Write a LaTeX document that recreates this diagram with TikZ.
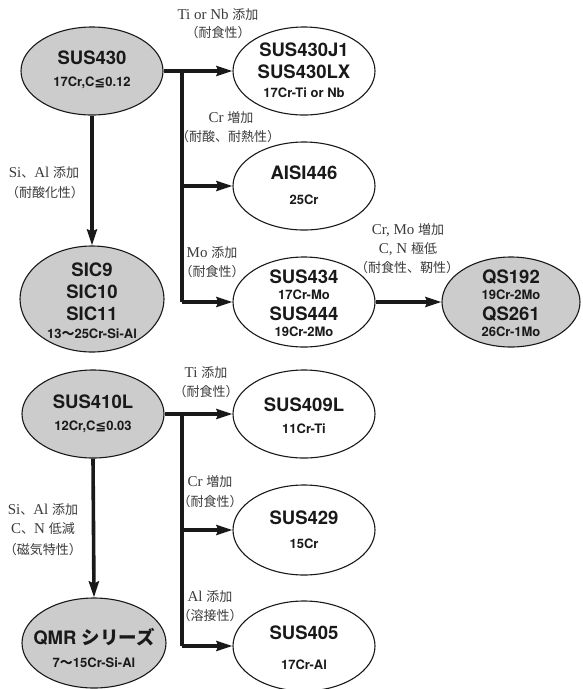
\documentclass[tikz,border=0pt]{standalone}
\usepackage{fontspec}
\usetikzlibrary{shapes.geometric,arrows.meta}
\setmainfont{Liberation Serif}
\setsansfont{TeX Gyre Heros}
\newfontfamily\cjk{Noto Sans CJK JP}
\newfontfamily\symf{DejaVu Sans}
\definecolor{shade}{RGB}{204,204,204}
\definecolor{ink}{RGB}{25,25,25}
\newcommand{\leqq}{{\symf\bfseries ≦}}
\newcommand{\wave}{{\cjk\bfseries 〜}}
\newcommand{\jp}[1]{{\cjk\fontsize{13}{16}\selectfont #1}}
\tikzset{
  alloy/.style={draw=ink, ellipse, line width=1.1pt, inner sep=0pt,
    minimum width=142pt, minimum height=88pt},
  basealloy/.style={alloy, fill=shade},
  title/.style={font=\sffamily\bfseries\fontsize{18.5}{20}\selectfont, text=ink, inner sep=0pt},
  sub/.style={font=\sffamily\bfseries\fontsize{13}{15}\selectfont, text=ink, inner sep=0pt},
  note/.style={font=\fontsize{15}{16}\selectfont, text=ink!85, inner sep=0pt},
  trunk/.style={line width=3.6pt, draw=ink},
  link/.style={trunk, -{Stealth[length=16pt,width=10pt,inset=2pt]}}
}
\begin{document}
\begin{tikzpicture}[x=1pt,y=-1pt]
\useasboundingbox (0,0) rectangle (582,689);

% ---------- 17Cr family ----------
\node[basealloy] (s430) at (92,71) {};
\node[title] (s430a) at (92,58) {SUS430};
\node[sub] (s430b) at (92,83) {17Cr,C\leqq0.12};

\node[alloy] (j1) at (304,71) {};
\node[title] (j1a) at (304,50) {SUS430J1};
\node[title] (j1b) at (304,72) {SUS430LX};
\node[sub] (j1c) at (304,93) {17Cr-Ti or Nb};

\node[alloy] (a446) at (304,186) {};
\node[title] (a446a) at (304,173) {AISI446};
\node[sub] (a446b) at (304,200) {25Cr};

\node[alloy, minimum height=90pt] (s434) at (304,302) {};
\node[title] (s434a) at (304,277) {SUS434};
\node[sub] (s434b) at (304,295) {17Cr-Mo};
\node[title] (s434c) at (304,314) {SUS444};
\node[sub] (s434d) at (304,332) {19Cr-2Mo};

\node[basealloy, minimum width=138pt, minimum height=90pt] (qs) at (511,302) {};
\node[title] (qsa) at (511,277) {QS192};
\node[sub] (qsb) at (511,295) {19Cr-2Mo};
\node[title] (qsc) at (511,314) {QS261};
\node[sub] (qsd) at (511,332) {26Cr-1Mo};

\node[basealloy, minimum width=144pt, minimum height=106pt] (sic) at (92,299) {};
\node[title] (sica) at (92,270) {SIC9};
\node[title] (sicb) at (92,292) {SIC10};
\node[title] (sicc) at (92,314) {SIC11};
\node[sub] (sicd) at (92,334) {13\wave25Cr-Si-Al};

\coordinate (t1) at (182,71);
\coordinate (t2) at (182,186);
\coordinate (t3) at (182,302);
\draw[link] (s430.east) -- (j1.west);
\draw[trunk] (t1) -- (t3);
\draw[link] (t2) -- (a446.west);
\draw[link] (t3) -- (s434.west);
\draw[link] (s430.south) -- (sic.north);
\draw[link] (s434.east) -- (qs.west);

\node[note] (n1) at (218,15) {Ti or Nb \jp{添加}};
\node[note] (n1b) at (218,33) {\jp{（耐食性）}};
\node[note] (n2) at (231,118) {Cr \jp{増加}};
\node[note] (n2b) at (228,137) {\jp{（耐酸、耐熱性）}};
\node[note] (n3) at (44,173) {Si\jp{、}Al \jp{添加}};
\node[note] (n3b) at (45,193) {\jp{（耐酸化性）}};
\node[note] (n4) at (212,253) {Mo \jp{添加}};
\node[note] (n4b) at (212,272) {\jp{（耐食性）}};
\node[note] (n5) at (408,230) {Cr, Mo \jp{増加}};
\node[note] (n5b) at (408,249) {C, N \jp{極低}};
\node[note] (n5c) at (407,268) {\jp{（耐食性、靭性）}};

% ---------- 11--17Cr family ----------
\node[basealloy] (s410) at (93,414) {};
\node[title] (s410a) at (93,402) {SUS410L};
\node[sub] (s410b) at (93,427) {12Cr,C\leqq0.03};

\node[basealloy, minimum width=144pt, minimum height=90pt] (qmr) at (94,643) {};
\node[title] (qmra) at (94,637) {QMR \jp{\fontsize{18.5}{20}\selectfont\bfseries シリーズ}};
\node[sub] (qmrb) at (94,663) {7\wave15Cr-Si-Al};

\node[alloy] (s409) at (304,414) {};
\node[title] (s409a) at (304,405) {SUS409L};
\node[sub] (s409b) at (304,429) {11Cr-Ti};

\node[alloy, minimum height=90pt] (s429) at (304,530) {};
\node[title] (s429a) at (304,518) {SUS429};
\node[sub] (s429b) at (304,544) {15Cr};

\node[alloy, minimum height=90pt] (s405) at (304,646) {};
\node[title] (s405a) at (304,633) {SUS405};
\node[sub] (s405b) at (304,665) {17Cr-Al};

\coordinate (u1) at (182,414);
\coordinate (u2) at (182,530);
\coordinate (u3) at (182,646);
\draw[link] (s410.east) -- (s409.west);
\draw[trunk] (u1) -- (u3);
\draw[link] (u2) -- (s429.west);
\draw[link] (u3) -- (s405.west);
\draw[link] (s410.south) -- (qmr.north);

\node[note] (m1) at (206,373) {Ti \jp{添加}};
\node[note] (m1b) at (206,392) {\jp{（耐食性）}};
\node[note] (m2) at (210,482) {Cr \jp{増加}};
\node[note] (m2b) at (210,502) {\jp{（耐食性）}};
\node[note] (m3) at (210,597) {Al \jp{添加}};
\node[note] (m3b) at (210,616) {\jp{（溶接性）}};
\node[note] (m4) at (43,510) {Si\jp{、}Al \jp{添加}};
\node[note] (m4b) at (43,529) {C\jp{、}N \jp{低減}};
\node[note] (m4c) at (43,550) {\jp{（磁気特性）}};
\end{tikzpicture}
\end{document}
